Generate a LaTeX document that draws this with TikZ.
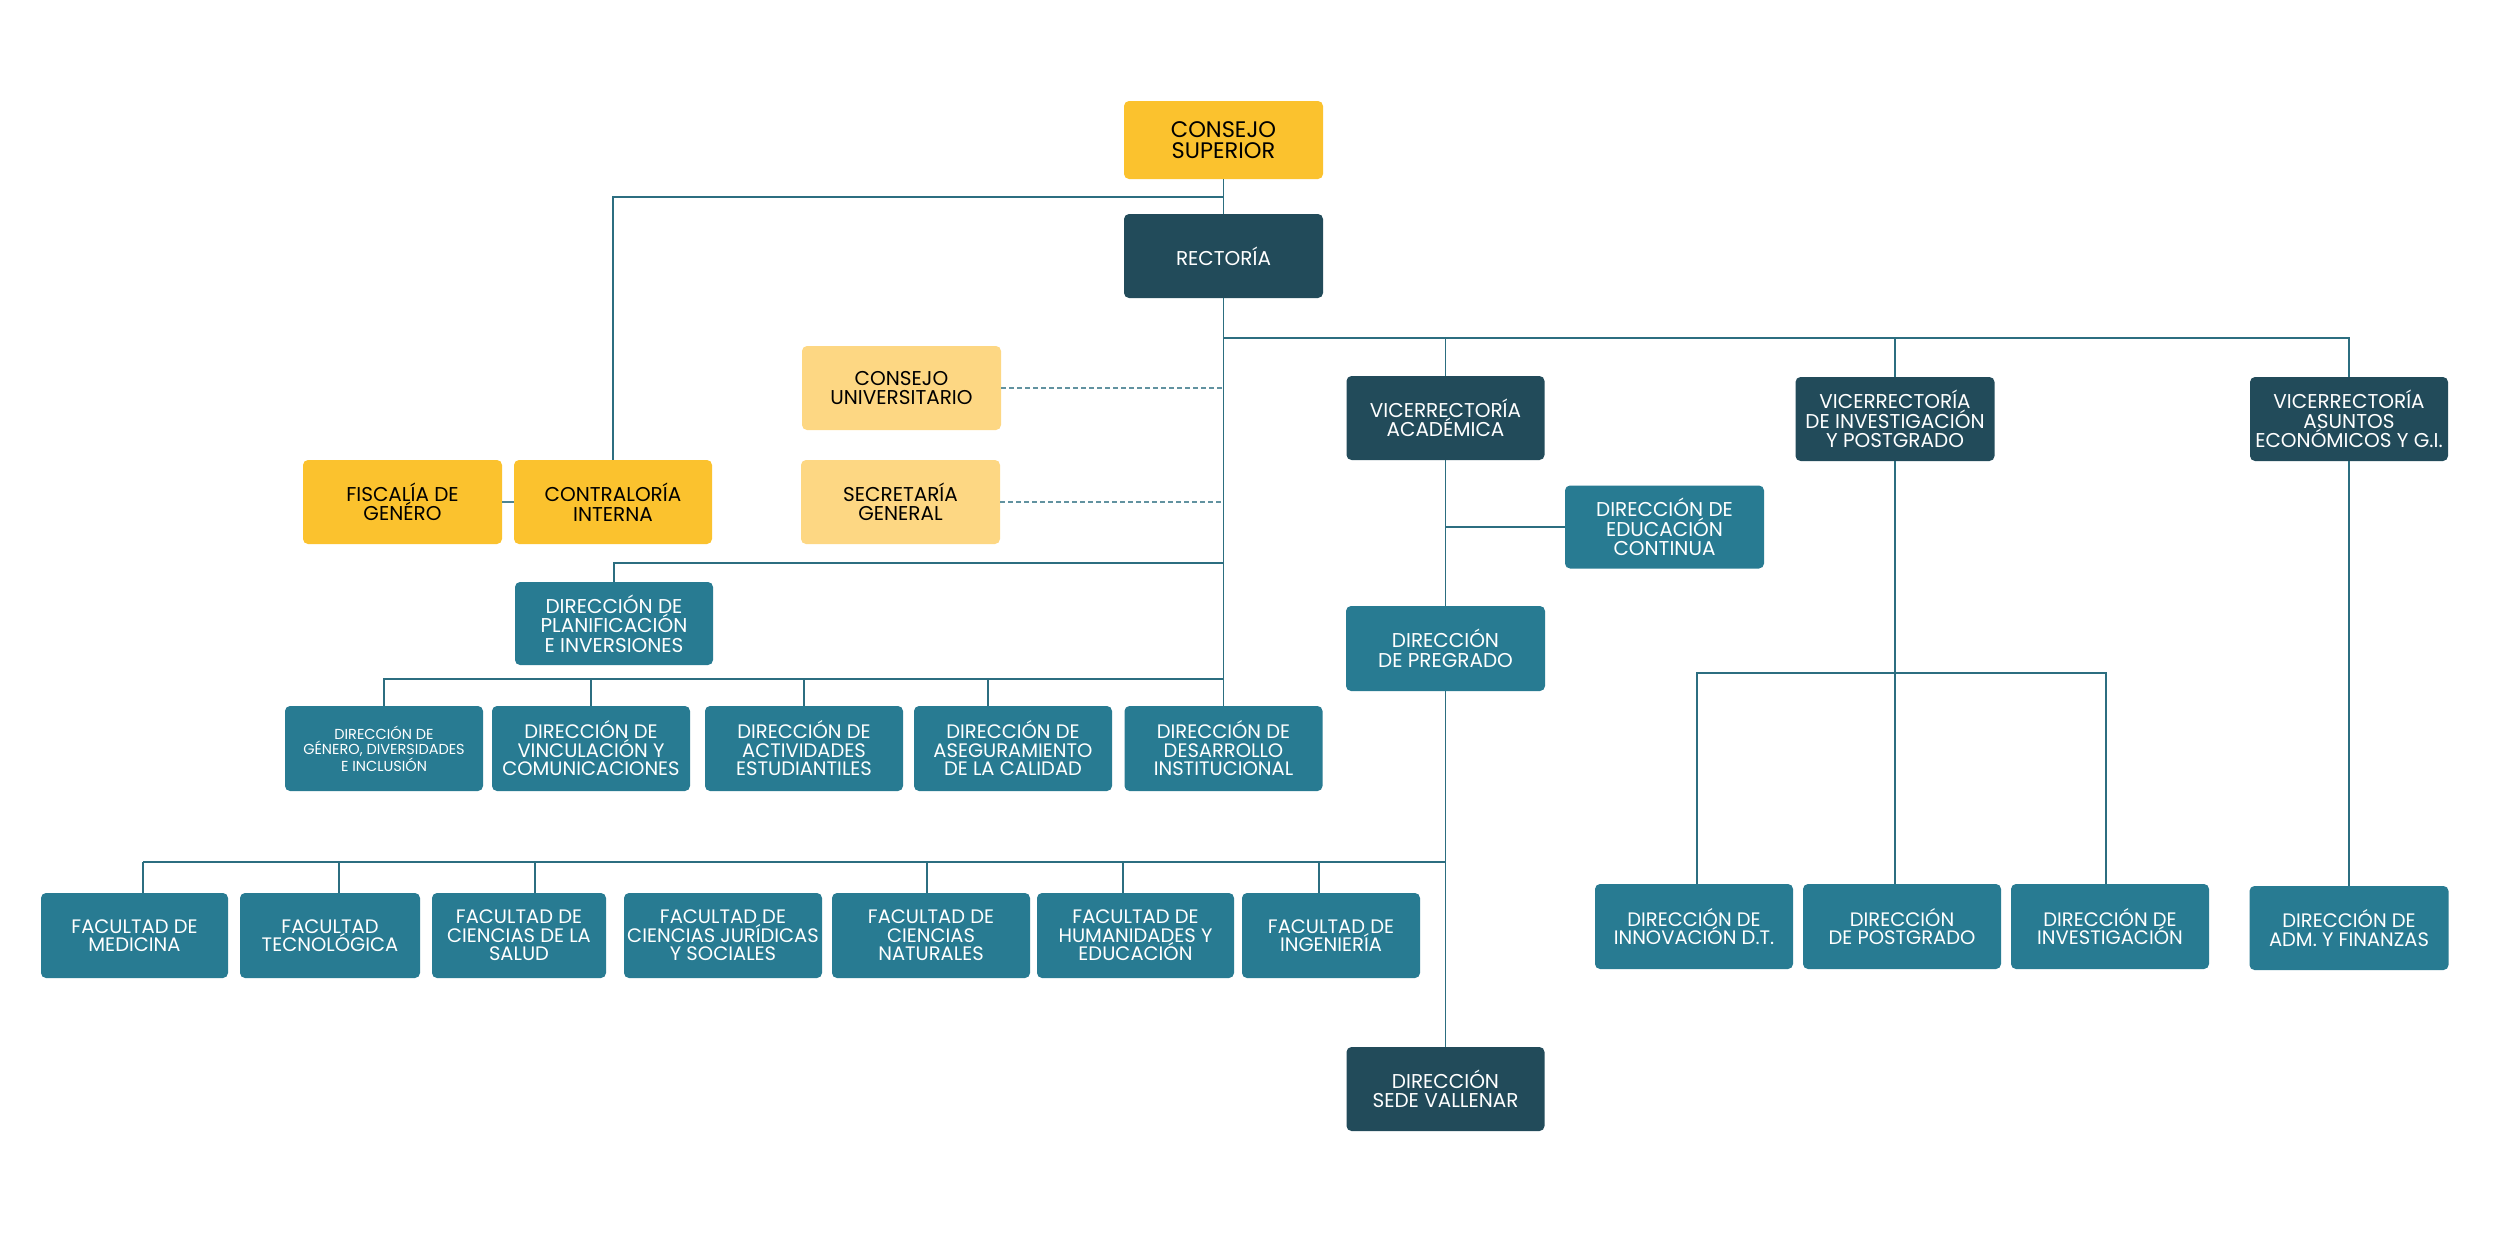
\documentclass[tikz,border=0pt]{standalone}
\usepackage{fontspec}
\setmainfont{Poppins}
\definecolor{cyel}{HTML}{FBC22E}
\definecolor{clight}{HTML}{FDD783}
\definecolor{cdark}{HTML}{224B5A}
\definecolor{cmed}{HTML}{287B92}
\definecolor{cline}{HTML}{2C6E80}
\begin{document}
\begin{tikzpicture}[x=1pt,y=-1pt,
  box/.style={rounded corners=5pt, inner sep=0pt, align=center, font=\fontsize{20}{19.5}\selectfont},
  sz/.style 2 args={minimum width=#1, minimum height=#2},
  yel/.style={box, fill=cyel, text=black},
  lyel/.style={box, fill=clight, text=black},
  dk/.style={box, fill=cdark, text=white},
  md/.style={box, fill=cmed, text=white},
  mid/.style={font=\fontsize{19.5}{18.5}\selectfont},
  sml/.style={font=\fontsize{14.5}{15.5}\selectfont},
  ln/.style={draw=cline, line width=1.4pt},
  dl/.style={draw=cline!75, line width=1.3pt, dash pattern=on 5pt off 3pt},
  fat/.style={draw=cline!85, line width=2.2pt}
]
\useasboundingbox (0,0) rectangle (2500,1245);

% top
\node[yel, sz={199}{78}, font=\fontsize{22.5}{20.5}\selectfont] (cs) at (1223.5,140) {CONSEJO\\SUPERIOR};
\node[dk, sz={199}{84}] (rect) at (1223.5,256) {RECTORÍA};
\node[lyel, sz={199}{84}] (cu) at (901.5,388) {CONSEJO\\UNIVERSITARIO};
\node[lyel, sz={199}{84}] (sg) at (900.5,502) {SECRETARÍA\\GENERAL};
\node[yel, sz={199}{84}] (fg) at (402.5,502) {FISCALÍA DE\\GENÉRO};
\node[yel, sz={198}{84}] (ci) at (613,502) {CONTRALORÍA\\INTERNA};
\node[md, sz={198}{83}] (pi) at (614,623.5) {DIRECCIÓN DE\\PLANIFICACIÓN\\E INVERSIONES};

% row of five
\node[md, sml, sz={198}{85}] (g1) at (384,748.5) {DIRECCIÓN DE\\GÉNERO, DIVERSIDADES\\E INCLUSIÓN};
\node[md, mid, sz={198}{85}] (g2) at (591,748.5) {DIRECCIÓN DE\\VINCULACIÓN Y\\COMUNICACIONES};
\node[md, mid, sz={198}{85}] (g3) at (804,748.5) {DIRECCIÓN DE\\ACTIVIDADES\\ESTUDIANTILES};
\node[md, mid, sz={198}{85}] (g4) at (1013,748.5) {DIRECCIÓN DE\\ASEGURAMIENTO\\DE LA CALIDAD};
\node[md, mid, sz={198}{85}] (g5) at (1223.5,748.5) {DIRECCIÓN DE\\DESARROLLO\\INSTITUCIONAL};

% vicerrectorias
\node[dk, sz={198}{84}] (va) at (1445.5,418) {VICERRECTORÍA\\ACADÉMICA};
\node[dk, sz={199}{84}] (vi) at (1895,419) {VICERRECTORÍA\\DE INVESTIGACIÓN\\Y POSTGRADO};
\node[dk, sz={198}{84}] (vae) at (2349,419) {VICERRECTORÍA\\ASUNTOS\\ECONÓMICOS Y G.I.};
\node[md, sz={199}{83}] (ec) at (1664.5,527) {DIRECCIÓN DE\\EDUCACIÓN\\CONTINUA};
\node[md, sz={199}{85}] (pg) at (1445.5,648.5) {DIRECCIÓN\\DE PREGRADO};
\node[dk, sz={198}{84}] (sv) at (1445.5,1089) {DIRECCIÓN\\SEDE VALLENAR};

% faculties
\node[md, mid, sz={187}{85}] (f1) at (134.5,935.5) {FACULTAD DE\\MEDICINA};
\node[md, mid, sz={180}{85}] (f2) at (330,935.5) {FACULTAD\\TECNOLÓGICA};
\node[md, mid, sz={174}{85}] (f3) at (519,935.5) {FACULTAD DE\\CIENCIAS DE LA\\SALUD};
\node[md, mid, sz={198}{85}] (f4) at (723,935.5) {FACULTAD DE\\CIENCIAS JURÍDICAS\\Y SOCIALES};
\node[md, mid, sz={198}{85}] (f5) at (931,935.5) {FACULTAD DE\\CIENCIAS\\NATURALES};
\node[md, mid, sz={197}{85}] (f6) at (1135.5,935.5) {FACULTAD DE\\HUMANIDADES Y\\EDUCACIÓN};
\node[md, mid, sz={178}{85}] (f7) at (1331,935.5) {FACULTAD DE\\INGENIERÍA};

% right bottom
\node[md, mid, sz={198}{85}] (in1) at (1694,926.5) {DIRECCIÓN DE\\INNOVACIÓN D.T.};
\node[md, mid, sz={198}{85}] (dp) at (1902,926.5) {DIRECCIÓN\\DE POSTGRADO};
\node[md, mid, sz={198}{85}] (dv) at (2110,926.5) {DIRECCIÓN DE\\INVESTIGACIÓN};
\node[md, mid, sz={199}{84}] (af) at (2349,928) {DIRECCIÓN DE\\ADM. Y FINANZAS};

% junction coordinates
\coordinate (j1) at (1223.5,197);
\coordinate (j2) at (1223.5,563);
\coordinate (j3) at (1223.5,679);
\coordinate (j4) at (1223.5,338);
\coordinate (j5) at (1445.5,862);
\coordinate (j6) at (1895,673);
\coordinate (g4c) at (988,706);
\coordinate (b1) at (143,862);
\coordinate (b2) at (339,862);
\coordinate (b3) at (535,862);
\coordinate (b5) at (927,862);
\coordinate (b6) at (1123,862);
\coordinate (b7) at (1319,862);

% connectors
\draw[ln] (cs.south) -- (rect.north);
\draw[ln] (ci.north) |- (j1);
\draw[ln] (rect.south) -- (g5.north);
\draw[ln] (pi.north) |- (j2);
\draw[ln] (g1.north) |- (j3);
\draw[ln] (g2.north) -- (g2.north |- j3);
\draw[ln] (g3.north) -- (g3.north |- j3);
\draw[ln] (g4c) -- (g4c |- j3);
\draw[dl] (cu.east) -- ([xshift=-2pt]cu.east -| rect.south);
\draw[dl] (sg.east) -- ([xshift=-2pt]sg.east -| rect.south);
\draw[fat] (fg.east) -- (ci.west);

\draw[ln] (j4) -| (vae.north);
\draw[ln] (va.north |- j4) -- (va.north);
\draw[ln] (vi.north |- j4) -- (vi.north);
\draw[ln] (va.south) -- (pg.north);
\draw[ln] (ec.west) -- (ec.west -| va.south);
\draw[ln] (pg.south) -- (sv.north);

\draw[ln] (b1) -- (j5);
\draw[ln] (b1) -- (b1 |- f1.north);
\draw[ln] (b2) -- (b2 |- f2.north);
\draw[ln] (b3) -- (b3 |- f3.north);
\draw[ln] (b5) -- (b5 |- f5.north);
\draw[ln] (b6) -- (b6 |- f6.north);
\draw[ln] (b7) -- (b7 |- f7.north);

\draw[ln] (vi.south) -- (vi.south |- dp.north);
\draw[ln] ([xshift=3pt]in1.north) |- (j6) -| ([xshift=-4pt]dv.north);
\draw[ln] (vae.south) -- (af.north);
\end{tikzpicture}
\end{document}
